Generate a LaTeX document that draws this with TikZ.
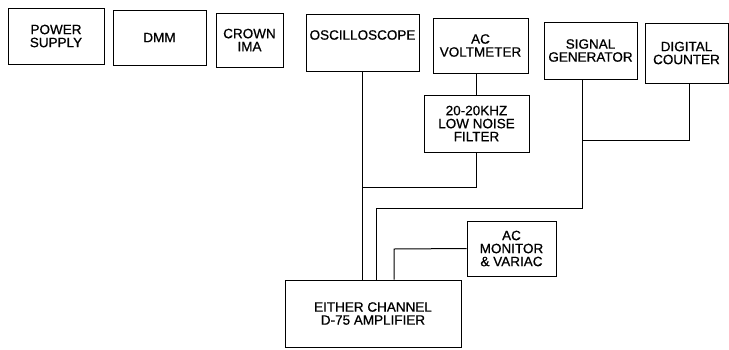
\documentclass[tikz,border=0pt]{standalone}
\usepackage{fontspec}
\setmainfont{Liberation Sans}
\newfontfamily\scanfont[FakeBold=0.7]{Liberation Sans}
\begin{document}
\begin{tikzpicture}[x=1pt,y=-1pt,
  box/.style={draw,line width=1pt,inner sep=0pt,align=center,
    font=\scanfont\fontsize{13.5}{13}\selectfont},
  wire/.style={line width=1pt}]
\useasboundingbox (0,0) rectangle (729,349);
\node[box,minimum width=96,minimum height=56] (ps) at (56,36) {POWER\\SUPPLY};
\node[box,minimum width=93,minimum height=55] (dmm) at (159.5,37.5) {DMM};
\node[box,minimum width=67,minimum height=54] (crown) at (249.5,40) {CROWN\\IMA};
\node[box,minimum width=113,minimum height=57] (osc) at (362.5,42.5) {};
\node[font=\scanfont\fontsize{13.5}{13}\selectfont,inner sep=0pt] (osct) at (362.5,35) {OSCILLOSCOPE};
\node[box,minimum width=95,minimum height=55] (acv) at (480.5,45.5) {AC\\VOLTMETER};
\node[box,minimum width=93,minimum height=57] (sig) at (590.5,50.5) {SIGNAL\\GENERATOR};
\node[box,minimum width=83,minimum height=60] (dc) at (686.5,53) {DIGITAL\\COUNTER};
\node[box,minimum width=105,minimum height=57] (filt) at (476.5,123.5) {20-20KHZ\\LOW NOISE\\FILTER};
\node[box,minimum width=89,minimum height=55] (mon) at (511.5,248.5) {AC\\MONITOR\\\& VARIAC};
\node[box,minimum width=176,minimum height=67] (amp) at (373,313.5) {EITHER CHANNEL\\D-75 AMPLIFIER};

\coordinate (j1) at (362,187);
\coordinate (c1) at (582,208);
\coordinate (c2) at (376,208);
\coordinate (c3) at (689,140);
\coordinate (c4) at (394,249);

\draw[wire] (osc.south -| j1) -- (j1 |- amp.north);
\draw[wire] (acv.south -| filt.north) -- (filt.north);
\draw[wire] (filt.south) |- (j1);
\draw[wire] (sig.south -| c1) -- (c1) -- (c2) -- (c2 |- amp.north);
\draw[wire] (dc.south -| c3) -- (c3) -- (c3 -| c1);
\draw[wire] (mon.west) -- (c4) -- (c4 |- amp.north);
\end{tikzpicture}
\end{document}
